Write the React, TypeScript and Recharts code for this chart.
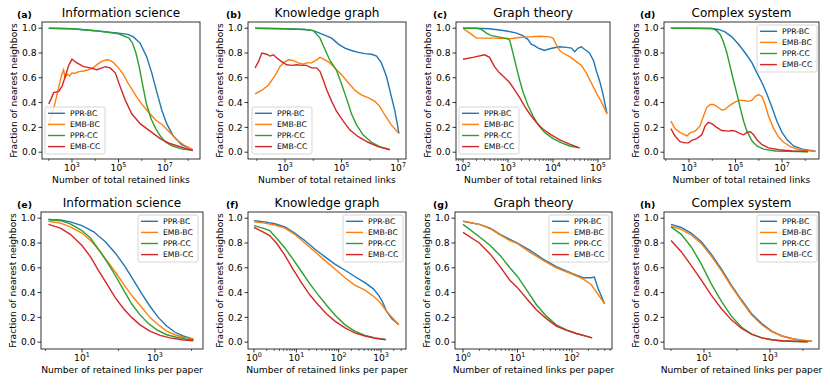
import React from 'react';
import { LineChart, Line, XAxis, YAxis } from 'recharts';

const FONT = '"DejaVu Sans", "Liberation Sans", sans-serif';

const SERIES_NAMES = ['PPR-BC', 'EMB-BC', 'PPR-CC', 'EMB-CC'];
const SERIES_COLORS = ['#1f77b4', '#ff7f0e', '#2ca02c', '#d62728'];

const PANEL_LETTERS = ['(a)', '(b)', '(c)', '(d)', '(e)', '(f)', '(g)', '(h)'];
const PANEL_TITLES = [
  'Information science', 'Knowledge graph', 'Graph theory', 'Complex system',
  'Information science', 'Knowledge graph', 'Graph theory', 'Complex system',
];
const X_LABELS = [
  'Number of total retained links', 'Number of total retained links',
  'Number of total retained links', 'Number of total retained links',
  'Number of retained links per paper', 'Number of retained links per paper',
  'Number of retained links per paper', 'Number of retained links per paper',
];
const Y_LABEL = 'Fraction of nearest neighbors';
const Y_TICKS = [0, 0.2, 0.4, 0.6, 0.8, 1.0];

const X_MAJOR_TICKS: number[][] = [
  [1e3, 1e5, 1e7],
  [1e3, 1e5, 1e7],
  [1e2, 1e3, 1e4, 1e5],
  [1e3, 1e5, 1e7],
  [1e1, 1e3],
  [1, 1e1, 1e2, 1e3],
  [1, 1e1, 1e2],
  [1e1, 1e3],
];
const X_MINOR_TICKS: number[][] = [
  [1e2, 1e4, 1e6, 1e8],
  [1e2, 1e4, 1e6],
  [70, 80, 90, 200, 300, 400, 500, 600, 700, 800, 900, 2000, 3000, 4000, 5000, 6000, 7000, 8000, 9000,
    20000, 30000, 40000, 50000, 60000, 70000, 80000, 90000],
  [1e2, 1e4, 1e6, 1e8],
  [1, 1e2, 1e4],
  [2, 3, 4, 5, 6, 7, 8, 9, 20, 30, 40, 50, 60, 70, 80, 90, 200, 300, 400, 500, 600, 700, 800, 900, 2000, 3000],
  [2, 3, 4, 5, 6, 7, 8, 9, 20, 30, 40, 50, 60, 70, 80, 90, 200, 300, 400, 500],
  [1, 1e2, 1e4],
];

// Each point: [log10 of x, fraction of nearest neighbors]
// (a) Information science – total retained links
const A_PPR_BC = [[2.0, 1.0], [3.0, 0.995], [4.0, 0.98], [5.0, 0.96], [5.4, 0.95], [5.64, 0.93], [5.93, 0.88], [6.21, 0.77], [6.43, 0.64], [6.64, 0.49], [6.86, 0.34], [7.07, 0.23], [7.36, 0.13], [7.71, 0.06], [8.19, 0.02]];
const A_EMB_BC = [[2.0, 0.22], [2.25, 0.38], [2.4, 0.5], [2.55, 0.62], [2.64, 0.665], [2.7, 0.6], [2.8, 0.63], [2.9, 0.615], [3.0, 0.64], [3.1, 0.635], [3.3, 0.65], [3.5, 0.655], [3.7, 0.665], [3.9, 0.68], [4.1, 0.71], [4.3, 0.735], [4.5, 0.745], [4.65, 0.74], [4.8, 0.72], [5.0, 0.68], [5.2, 0.63], [5.4, 0.56], [5.6, 0.5], [5.8, 0.44], [6.0, 0.39], [6.3, 0.32], [6.6, 0.26], [6.9, 0.22], [7.2, 0.16], [7.5, 0.1], [7.8, 0.06], [8.19, 0.02]];
const A_PPR_CC = [[2.0, 1.0], [3.0, 0.995], [4.0, 0.98], [5.0, 0.955], [5.45, 0.92], [5.6, 0.88], [5.75, 0.8], [5.9, 0.68], [6.05, 0.53], [6.2, 0.39], [6.4, 0.27], [6.6, 0.19], [6.8, 0.13], [7.0, 0.085], [7.3, 0.05], [7.7, 0.027], [8.19, 0.015]];
const A_EMB_CC = [[2.0, 0.39], [2.1, 0.43], [2.21, 0.48], [2.43, 0.49], [2.57, 0.53], [2.71, 0.61], [2.86, 0.7], [3.0, 0.75], [3.1, 0.735], [3.21, 0.72], [3.5, 0.69], [3.79, 0.68], [4.07, 0.665], [4.29, 0.68], [4.43, 0.69], [4.64, 0.68], [4.86, 0.64], [5.07, 0.53], [5.29, 0.42], [5.57, 0.31], [5.93, 0.23], [6.36, 0.17], [6.79, 0.11], [7.21, 0.07], [7.71, 0.04], [8.19, 0.013]];

// (b) Knowledge graph – total retained links
const B_PPR_BC = [[1.94, 1.0], [3.0, 0.995], [3.71, 0.99], [4.0, 0.98], [4.29, 0.955], [4.65, 0.92], [4.9, 0.87], [5.12, 0.84], [5.35, 0.82], [5.59, 0.805], [5.82, 0.795], [6.06, 0.79], [6.24, 0.775], [6.41, 0.72], [6.59, 0.61], [6.76, 0.45], [6.88, 0.34], [6.97, 0.23], [7.03, 0.15]];
const B_EMB_BC = [[1.94, 0.47], [2.18, 0.5], [2.41, 0.54], [2.65, 0.62], [2.82, 0.69], [2.94, 0.72], [3.12, 0.745], [3.29, 0.74], [3.47, 0.72], [3.65, 0.71], [3.76, 0.72], [3.94, 0.72], [4.12, 0.745], [4.24, 0.765], [4.41, 0.745], [4.59, 0.72], [4.76, 0.68], [5.0, 0.625], [5.24, 0.56], [5.47, 0.5], [5.71, 0.46], [5.94, 0.44], [6.18, 0.41], [6.35, 0.37], [6.53, 0.3], [6.76, 0.22], [7.03, 0.15]];
const B_PPR_CC = [[1.94, 1.0], [3.0, 0.995], [3.71, 0.99], [4.0, 0.98], [4.12, 0.95], [4.24, 0.92], [4.35, 0.86], [4.47, 0.8], [4.59, 0.74], [4.71, 0.7], [4.82, 0.66], [5.0, 0.55], [5.18, 0.43], [5.35, 0.31], [5.53, 0.22], [5.76, 0.14], [6.06, 0.08], [6.35, 0.045], [6.71, 0.02]];
const B_EMB_CC = [[1.94, 0.68], [2.06, 0.73], [2.18, 0.8], [2.35, 0.79], [2.47, 0.775], [2.59, 0.785], [2.71, 0.76], [2.88, 0.73], [3.06, 0.705], [3.24, 0.7], [3.41, 0.705], [3.59, 0.7], [3.76, 0.7], [3.94, 0.68], [4.12, 0.68], [4.24, 0.65], [4.35, 0.585], [4.47, 0.505], [4.65, 0.41], [4.82, 0.33], [5.06, 0.25], [5.29, 0.18], [5.59, 0.125], [5.94, 0.08], [6.29, 0.045], [6.71, 0.02]];

// (c) Graph theory – total retained links
const C_PPR_BC = [[2.0, 1.0], [2.3, 1.0], [2.59, 0.995], [2.81, 0.985], [3.0, 0.975], [3.19, 0.96], [3.33, 0.94], [3.44, 0.91], [3.52, 0.87], [3.59, 0.86], [3.67, 0.84], [3.74, 0.83], [3.81, 0.82], [3.89, 0.83], [4.0, 0.84], [4.15, 0.85], [4.3, 0.845], [4.41, 0.84], [4.48, 0.81], [4.56, 0.84], [4.63, 0.85], [4.7, 0.83], [4.81, 0.8], [4.9, 0.74], [4.96, 0.66], [5.04, 0.57], [5.11, 0.47], [5.2, 0.31]];
const C_EMB_BC = [[2.0, 1.0], [2.15, 0.96], [2.3, 0.92], [2.67, 0.92], [3.04, 0.915], [3.26, 0.925], [3.48, 0.93], [3.7, 0.935], [3.93, 0.93], [4.0, 0.92], [4.07, 0.87], [4.15, 0.82], [4.22, 0.8], [4.37, 0.77], [4.52, 0.73], [4.63, 0.7], [4.74, 0.64], [4.85, 0.56], [4.96, 0.48], [5.07, 0.41], [5.2, 0.31]];
const C_PPR_CC = [[2.0, 1.0], [2.3, 1.0], [2.41, 0.99], [2.52, 0.96], [2.63, 0.94], [2.78, 0.93], [2.93, 0.92], [3.0, 0.915], [3.04, 0.9], [3.11, 0.8], [3.19, 0.68], [3.26, 0.58], [3.33, 0.49], [3.44, 0.38], [3.56, 0.29], [3.67, 0.22], [3.81, 0.16], [4.0, 0.11], [4.19, 0.075], [4.37, 0.05], [4.59, 0.035]];
const C_EMB_CC = [[2.0, 0.75], [2.22, 0.765], [2.48, 0.785], [2.59, 0.765], [2.7, 0.69], [2.81, 0.64], [2.93, 0.6], [3.04, 0.56], [3.15, 0.5], [3.26, 0.44], [3.37, 0.37], [3.48, 0.31], [3.63, 0.24], [3.78, 0.185], [3.96, 0.14], [4.15, 0.1], [4.37, 0.065], [4.59, 0.035]];

// (d) Complex system – total retained links
const D_PPR_BC = [[2.22, 1.0], [3.0, 1.0], [3.98, 0.998], [4.27, 0.99], [4.55, 0.97], [4.84, 0.93], [5.13, 0.87], [5.42, 0.8], [5.71, 0.72], [5.92, 0.64], [6.14, 0.56], [6.35, 0.47], [6.57, 0.36], [6.78, 0.25], [7.0, 0.16], [7.22, 0.1], [7.5, 0.05], [7.86, 0.025], [8.44, 0.008]];
const D_EMB_BC = [[2.22, 0.25], [2.4, 0.19], [2.61, 0.16], [2.83, 0.14], [2.9, 0.13], [3.04, 0.155], [3.26, 0.17], [3.47, 0.21], [3.62, 0.29], [3.76, 0.36], [3.91, 0.385], [4.05, 0.385], [4.19, 0.37], [4.41, 0.34], [4.55, 0.345], [4.77, 0.38], [4.99, 0.405], [5.2, 0.42], [5.42, 0.415], [5.56, 0.41], [5.71, 0.42], [5.85, 0.45], [5.99, 0.465], [6.14, 0.45], [6.28, 0.38], [6.42, 0.29], [6.64, 0.19], [6.86, 0.12], [7.07, 0.08], [7.36, 0.045], [7.72, 0.02], [8.44, 0.006]];
const D_PPR_CC = [[2.22, 1.0], [3.0, 1.0], [3.98, 0.998], [4.19, 0.98], [4.34, 0.95], [4.48, 0.89], [4.63, 0.8], [4.77, 0.69], [4.91, 0.58], [5.06, 0.47], [5.2, 0.36], [5.35, 0.25], [5.49, 0.17], [5.71, 0.09], [5.92, 0.05], [6.21, 0.025], [6.71, 0.01], [8.12, 0.003]];
const D_EMB_CC = [[2.22, 0.19], [2.4, 0.13], [2.61, 0.085], [2.83, 0.075], [2.97, 0.075], [3.12, 0.095], [3.33, 0.11], [3.55, 0.14], [3.69, 0.21], [3.83, 0.24], [3.98, 0.23], [4.19, 0.2], [4.41, 0.175], [4.7, 0.17], [4.84, 0.175], [4.99, 0.17], [5.2, 0.15], [5.35, 0.14], [5.49, 0.16], [5.63, 0.165], [5.78, 0.14], [5.92, 0.1], [6.14, 0.06], [6.42, 0.035], [6.86, 0.02], [7.43, 0.01], [8.12, 0.005]];

// (e) Information science – retained links per paper
const E_PPR_BC = [[0.08, 0.99], [0.41, 0.985], [0.68, 0.97], [1.0, 0.94], [1.32, 0.89], [1.64, 0.81], [1.91, 0.72], [2.18, 0.61], [2.41, 0.5], [2.64, 0.39], [2.86, 0.29], [3.09, 0.2], [3.32, 0.13], [3.55, 0.08], [3.77, 0.05], [4.05, 0.025]];
const E_EMB_BC = [[0.08, 0.975], [0.41, 0.96], [0.68, 0.93], [1.0, 0.88], [1.27, 0.81], [1.5, 0.73], [1.73, 0.64], [1.95, 0.55], [2.18, 0.45], [2.41, 0.36], [2.64, 0.28], [2.86, 0.2], [3.09, 0.14], [3.32, 0.09], [3.55, 0.06], [3.77, 0.04], [4.05, 0.025]];
const E_PPR_CC = [[0.08, 0.99], [0.41, 0.98], [0.68, 0.955], [1.0, 0.9], [1.23, 0.84], [1.45, 0.75], [1.68, 0.65], [1.91, 0.54], [2.14, 0.42], [2.36, 0.31], [2.59, 0.22], [2.82, 0.15], [3.05, 0.1], [3.32, 0.06], [3.59, 0.04], [3.86, 0.025], [4.05, 0.02]];
const E_EMB_CC = [[0.08, 0.95], [0.41, 0.92], [0.68, 0.87], [1.0, 0.78], [1.23, 0.69], [1.45, 0.58], [1.68, 0.47], [1.91, 0.36], [2.14, 0.27], [2.36, 0.2], [2.59, 0.14], [2.86, 0.09], [3.14, 0.055], [3.41, 0.035], [3.73, 0.02], [4.05, 0.012]];

// (f) Knowledge graph – retained links per paper
const F_PPR_BC = [[0, 0.98], [0.25, 0.97], [0.49, 0.955], [0.73, 0.93], [0.96, 0.88], [1.2, 0.82], [1.44, 0.75], [1.67, 0.69], [1.91, 0.63], [2.15, 0.58], [2.38, 0.53], [2.62, 0.48], [2.82, 0.43], [2.94, 0.38], [3.03, 0.33], [3.13, 0.25], [3.25, 0.19], [3.42, 0.14]];
const F_EMB_BC = [[0, 0.97], [0.25, 0.96], [0.49, 0.945], [0.73, 0.92], [0.96, 0.87], [1.2, 0.8], [1.44, 0.73], [1.67, 0.66], [1.91, 0.59], [2.15, 0.52], [2.38, 0.46], [2.62, 0.42], [2.82, 0.37], [2.98, 0.32], [3.13, 0.25], [3.29, 0.19], [3.42, 0.14]];
const F_PPR_CC = [[0, 0.94], [0.21, 0.92], [0.37, 0.9], [0.53, 0.84], [0.73, 0.76], [0.92, 0.67], [1.12, 0.57], [1.32, 0.47], [1.52, 0.38], [1.71, 0.3], [1.91, 0.22], [2.15, 0.14], [2.38, 0.09], [2.62, 0.055], [2.86, 0.035], [3.11, 0.022]];
const F_EMB_CC = [[0, 0.925], [0.21, 0.89], [0.37, 0.86], [0.53, 0.8], [0.73, 0.7], [0.92, 0.59], [1.12, 0.48], [1.32, 0.38], [1.52, 0.3], [1.71, 0.23], [1.91, 0.17], [2.15, 0.115], [2.38, 0.075], [2.62, 0.05], [2.86, 0.032], [3.11, 0.02]];

// (g) Graph theory – retained links per paper
const G_PPR_BC = [[0, 0.975], [0.3, 0.95], [0.5, 0.92], [0.68, 0.87], [0.86, 0.83], [1.0, 0.8], [1.23, 0.74], [1.47, 0.67], [1.71, 0.61], [2.0, 0.555], [2.2, 0.52], [2.35, 0.52], [2.41, 0.525], [2.48, 0.43], [2.6, 0.31]];
const G_EMB_BC = [[0, 0.975], [0.3, 0.95], [0.5, 0.915], [0.68, 0.865], [0.86, 0.82], [1.0, 0.795], [1.23, 0.725], [1.47, 0.66], [1.71, 0.6], [2.0, 0.55], [2.2, 0.51], [2.35, 0.465], [2.47, 0.39], [2.6, 0.31]];
const G_PPR_CC = [[0, 0.95], [0.3, 0.85], [0.5, 0.78], [0.68, 0.7], [0.86, 0.6], [1.0, 0.53], [1.17, 0.42], [1.35, 0.3], [1.53, 0.21], [1.71, 0.14], [1.9, 0.1], [2.08, 0.07], [2.29, 0.045], [2.37, 0.035]];
const G_EMB_CC = [[0, 0.885], [0.3, 0.8], [0.5, 0.71], [0.68, 0.61], [0.86, 0.5], [1.0, 0.44], [1.17, 0.35], [1.35, 0.26], [1.53, 0.19], [1.71, 0.13], [1.9, 0.095], [2.08, 0.07], [2.29, 0.045], [2.37, 0.035]];

// (h) Complex system – retained links per paper
const H_PPR_BC = [[0, 0.95], [0.31, 0.925], [0.61, 0.88], [0.92, 0.81], [1.22, 0.71], [1.53, 0.59], [1.83, 0.46], [2.14, 0.34], [2.44, 0.23], [2.75, 0.15], [3.05, 0.09], [3.36, 0.05], [3.66, 0.03], [3.96, 0.015], [4.27, 0.008]];
const H_EMB_BC = [[0, 0.935], [0.31, 0.91], [0.61, 0.865], [0.92, 0.795], [1.22, 0.695], [1.53, 0.575], [1.83, 0.45], [2.14, 0.33], [2.44, 0.22], [2.75, 0.14], [3.05, 0.085], [3.36, 0.05], [3.66, 0.03], [3.96, 0.015], [4.27, 0.008]];
const H_PPR_CC = [[0, 0.93], [0.31, 0.87], [0.61, 0.77], [0.92, 0.63], [1.22, 0.47], [1.53, 0.33], [1.83, 0.21], [2.14, 0.12], [2.44, 0.065], [2.75, 0.035], [3.05, 0.02], [3.36, 0.01], [3.76, 0.006], [4.14, 0.004]];
const H_EMB_CC = [[0, 0.82], [0.31, 0.73], [0.61, 0.62], [0.92, 0.5], [1.22, 0.38], [1.53, 0.27], [1.83, 0.18], [2.14, 0.11], [2.44, 0.065], [2.75, 0.035], [3.05, 0.02], [3.36, 0.012], [3.76, 0.007], [4.14, 0.004]];

const PANEL_SERIES = [
  [A_PPR_BC, A_EMB_BC, A_PPR_CC, A_EMB_CC],
  [B_PPR_BC, B_EMB_BC, B_PPR_CC, B_EMB_CC],
  [C_PPR_BC, C_EMB_BC, C_PPR_CC, C_EMB_CC],
  [D_PPR_BC, D_EMB_BC, D_PPR_CC, D_EMB_CC],
  [E_PPR_BC, E_EMB_BC, E_PPR_CC, E_EMB_CC],
  [F_PPR_BC, F_EMB_BC, F_PPR_CC, F_EMB_CC],
  [G_PPR_BC, G_EMB_BC, G_PPR_CC, G_EMB_CC],
  [H_PPR_BC, H_EMB_BC, H_PPR_CC, H_EMB_CC],
];

// Layout (pixels) of each axes frame, x-domain exponents, legend corner
const LAYOUT = [
  { fl: 42, fr: 200, ft: 22, fb: 159, lo: 1.71, hi: 8.505, lx: 45, ly: 107, letterX: 17 },
  { fl: 248, fr: 406, ft: 22, fb: 159, lo: 1.69, hi: 7.28, lx: 252, ly: 107, letterX: 226 },
  { fl: 456, fr: 610, ft: 22, fb: 159, lo: 1.844, hi: 5.267, lx: 459, ly: 107, letterX: 433 },
  { fl: 664, fr: 819, ft: 22, fb: 159, lo: 1.925, hi: 8.59, lx: 757, ly: 25, letterX: 640 },
  { fl: 41, fr: 203, ft: 212, fb: 349, lo: -0.123, hi: 4.315, lx: 138, ly: 215, letterX: 17 },
  { fl: 248, fr: 406, ft: 212, fb: 349, lo: -0.142, hi: 3.59, lx: 343, ly: 215, letterX: 226 },
  { fl: 455, fr: 612, ft: 212, fb: 349, lo: -0.147, hi: 2.734, lx: 549, ly: 215, letterX: 433 },
  { fl: 664, fr: 819, ft: 212, fb: 349, lo: -0.212, hi: 4.485, lx: 757, ly: 215, letterX: 640 },
];

const TICK_FS = 9.2;
const LEGEND_FS = 7.7;

function XTick(props: any) {
  const { x, y, payload, majors } = props;
  const v = payload.value;
  const isMajor = majors.some((m: number) => Math.abs(Math.log10(m) - Math.log10(v)) < 1e-6);
  const exp = Math.round(Math.log10(v));
  return (
    <g>
      <line x1={x} x2={x} y1={y} y2={y + (isMajor ? 3.5 : 2)} stroke="#000" strokeWidth={isMajor ? 0.8 : 0.6} />
      {isMajor && (
        <text x={x} y={y + 11.5} textAnchor="middle" fontSize={TICK_FS} fontFamily={FONT} fill="#000">
          10<tspan fontSize={6.4} dy={-3.8}>{exp}</tspan>
        </text>
      )}
    </g>
  );
}

function YTick(props: any) {
  const { x, y, payload } = props;
  return (
    <g>
      <line x1={x} x2={x - 3.5} y1={y} y2={y} stroke="#000" strokeWidth={0.8} />
      <text x={x - 5.5} y={y + 3.3} textAnchor="end" fontSize={TICK_FS} fontFamily={FONT} fill="#000">
        {Number(payload.value).toFixed(1)}
      </text>
    </g>
  );
}

function Panel({ idx }: { idx: number }) {
  const g = LAYOUT[idx];
  const W = g.fr - g.fl + 50;
  const H = g.fb - g.ft + 50;
  const majors = X_MAJOR_TICKS[idx];
  const allTicks = [...majors, ...X_MINOR_TICKS[idx]].sort((a, b) => a - b);
  return (
    <div style={{ position: 'absolute', left: g.fl - 40, top: g.ft - 10, width: W, height: H }}>
      <LineChart width={W} height={H} margin={{ top: 10, right: 10, bottom: 0, left: 0 }}>
        <XAxis
          dataKey="x"
          type="number"
          scale="log"
          domain={[Math.pow(10, g.lo), Math.pow(10, g.hi)]}
          allowDataOverflow
          ticks={allTicks}
          interval={0}
          tick={(p: any) => <XTick {...p} majors={majors} />}
          tickLine={false}
          axisLine={false}
          tickSize={0}
          tickMargin={0}
          height={40}
        />
        <YAxis
          type="number"
          domain={[-0.055, 1.05]}
          allowDataOverflow
          ticks={Y_TICKS}
          interval={0}
          tick={(p: any) => <YTick {...p} />}
          tickLine={false}
          axisLine={false}
          tickSize={0}
          tickMargin={0}
          width={40}
        />
        {PANEL_SERIES[idx].map((s, i) => (
          <Line
            key={SERIES_NAMES[i]}
            name={SERIES_NAMES[i]}
            data={s.map(([e, v]) => ({ x: Math.pow(10, e), y: v }))}
            dataKey="y"
            type="linear"
            stroke={SERIES_COLORS[i]}
            strokeWidth={1.4}
            dot={false}
            activeDot={false}
            isAnimationActive={false}
          />
        ))}
      </LineChart>
    </div>
  );
}

function Overlay() {
  return (
    <svg width={830} height={388} style={{ position: 'absolute', left: 0, top: 0, pointerEvents: 'none' }}>
      {LAYOUT.map((g, idx) => {
        const cx = (g.fl + g.fr) / 2;
        const cy = (g.ft + g.fb) / 2;
        return (
          <g key={idx} fontFamily={FONT} fill="#000">
            <rect x={g.fl} y={g.ft} width={g.fr - g.fl} height={g.fb - g.ft} fill="none" stroke="#000" strokeWidth={0.8} />
            <text x={cx} y={g.ft - 5} textAnchor="middle" fontSize={12}>{PANEL_TITLES[idx]}</text>
            <text x={g.letterX} y={g.ft - 4} fontSize={9.4} fontWeight="bold">{PANEL_LETTERS[idx]}</text>
            <text x={cx} y={g.fb + 23.8} textAnchor="middle" fontSize={9.2}>{X_LABELS[idx]}</text>
            <text
              transform={`translate(${g.fl - 28.5}, ${cy}) rotate(-90)`}
              textAnchor="middle"
              dominantBaseline="central"
              fontSize={9.2}
            >
              {Y_LABEL}
            </text>
            <g>
              <rect x={g.lx} y={g.ly} width={60} height={47} rx={2} fill="#fff" fillOpacity={0.8} stroke="#cccccc" strokeWidth={0.8} />
              {SERIES_NAMES.map((n, i) => {
                const ry = g.ly + 6.3 + i * 11.1;
                return (
                  <g key={n}>
                    <line x1={g.lx + 3} x2={g.lx + 20} y1={ry} y2={ry} stroke={SERIES_COLORS[i]} strokeWidth={1.4} />
                    <text x={g.lx + 25} y={ry + 2.8} fontSize={LEGEND_FS}>{n}</text>
                  </g>
                );
              })}
            </g>
          </g>
        );
      })}
    </svg>
  );
}

export default function App() {
  return (
    <div style={{ position: 'absolute', left: 0, top: 0, width: 830, height: 388, background: '#fff', overflow: 'hidden' }}>
      {LAYOUT.map((_, idx) => (
        <Panel key={idx} idx={idx} />
      ))}
      <Overlay />
    </div>
  );
}
